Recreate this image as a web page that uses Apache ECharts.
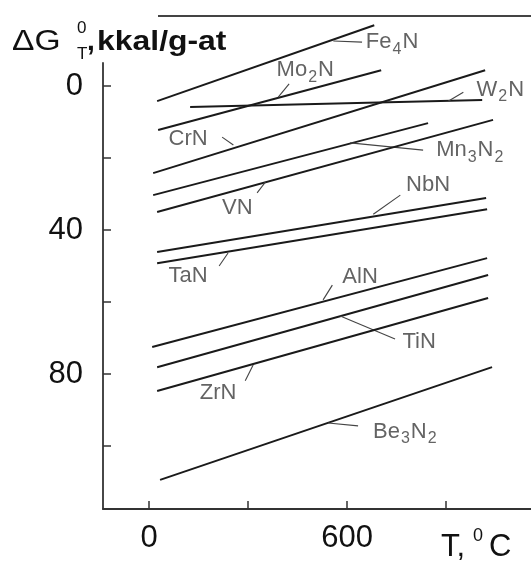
<!DOCTYPE html>
<html><head><meta charset="utf-8">
<script src="https://cdn.jsdelivr.net/npm/echarts@6/dist/echarts.min.js"></script>
<style>html,body{margin:0;padding:0;background:#fff}#c{width:531px;height:566px}</style>
</head><body><div id="c"></div>
<script>
// compounds (digits are subscripts)
const names  = ['Fe4N','Mo2N','W2N','CrN','Mn3N2','VN','NbN','TaN','AlN','TiN','ZrN','Be3N2'];
// line end points: T in °C, ΔG in kkal/g-at
const tStart = [24, 27, 124, 12, 12, 24, 24, 24, 9, 24, 24, 33];
const tEnd   = [682, 703, 1009, 1018, 845, 1042, 1021, 1024, 1024, 1027, 1027, 1039];
const gStart = [4.2, 12.2, 5.8, 24.2, 30.3, 35.0, 46.1, 49.2, 72.5, 78.1, 84.7, 109.4];
const gEnd   = [-16.9, -4.4, 3.9, -4.4, 10.3, 9.4, 31.1, 34.2, 47.8, 52.5, 58.9, 78.1];
// label anchor points
const labelT = [736, 473, 1064, 118, 973, 267, 845, 118, 639, 818, 209, 776];
const labelG = [-12.2, -4.4, 1.1, 14.7, 17.8, 33.9, 27.5, 52.8, 53.0, 71.1, 85.3, 96.1];
// leader lines
const leadT1 = [558, 424, 906, 221, 830, 327, 761, 239, 555, 579, 315, 542];
const leadG1 = [-12.5, -0.6, 4.2, 14.2, 17.8, 29.7, 30.3, 46.4, 55.3, 63.9, 77.5, 93.6];
const leadT2 = [645, 391, 952, 255, 609, 352, 679, 212, 527, 745, 291, 633];
const leadG2 = [-12.2, 3.1, 1.7, 16.4, 15.8, 26.7, 35.6, 50.0, 59.4, 70.3, 81.9, 94.4];
// axes
const xTicks = [0, 300, 600, 900];
const xLabels = [0, 600];
const yTicks = [0, 20, 40, 60, 80, 100];
const yLabels = [0, 40, 80];

function richName(n) {
  return n.replace(/(\d)/g, '{s|$1}').replace(/(^|\})([^{]+)(?=\{|$)/g, '$1{m|$2}');
}

const series = [];
names.forEach((n, i) => {
  series.push({
    type: 'line', name: n, clip: false, showSymbol: false, silent: true,
    data: [[tStart[i], gStart[i]], [tEnd[i], gEnd[i]]],
    lineStyle: { color: '#1a1a1a', width: 2 }
  });
  series.push({
    type: 'line', clip: false, showSymbol: false, silent: true,
    data: [[leadT1[i], leadG1[i]], [leadT2[i], leadG2[i]]],
    lineStyle: { color: '#444', width: 1.1 }
  });
});
series.push({
  type: 'scatter', clip: false, symbolSize: 0, silent: true,
  data: names.map((n, i) => ({ value: [labelT[i], labelG[i]], name: n })),
  label: {
    show: true, position: 'inside',
    formatter: p => richName(p.name),
    rich: {
      m: { fontFamily: 'Liberation Sans, Arial, sans-serif', fontSize: 22, color: '#3c3c3c', lineHeight: 30, verticalAlign: 'middle' },
      s: { fontFamily: 'Liberation Sans, Arial, sans-serif', fontSize: 16, color: '#3c3c3c', lineHeight: 14, verticalAlign: 'bottom', padding: [0, 1, 0, 1] }
    }
  }
});

const FF = 'Liberation Sans, Arial, sans-serif';
const chart = echarts.init(document.getElementById('c'), null, { renderer: 'canvas' });
chart.setOption({
  animation: false,
  backgroundColor: '#fff',
  grid: { left: 103, right: 0, top: 63, bottom: 57, containLabel: false },
  xAxis: {
    type: 'value', min: -140, max: 1157,
    axisLine: { show: true, onZero: false, lineStyle: { color: '#333', width: 1.8 } },
    axisTick: { show: true, inside: true, length: 8, customValues: xTicks, lineStyle: { color: '#333', width: 1.5 } },
    axisLabel: { customValues: xLabels, fontFamily: FF, fontSize: 31, color: '#111', margin: 14 },
    splitLine: { show: false }
  },
  yAxis: {
    type: 'value', inverse: true, min: -6.4, max: 117.5,
    axisLine: { show: true, onZero: false, lineStyle: { color: '#333', width: 1.8 } },
    axisTick: { show: true, inside: true, length: 8, customValues: yTicks, lineStyle: { color: '#333', width: 1.5 } },
    axisLabel: { customValues: yLabels, fontFamily: FF, fontSize: 31, color: '#111', margin: 20 },
    splitLine: { show: false }
  },
  graphic: [
    { type: 'line', shape: { x1: 158, y1: 16, x2: 531, y2: 16 }, style: { stroke: '#444', lineWidth: 2 } },
    { type: 'text', x: 12, y: 27, scaleX: 1.12, style: { text: 'ΔG', font: '30px ' + FF, fill: '#111', textVerticalAlign: 'top' } },
    { type: 'text', x: 77, y: 20, style: { text: '0', font: '17px ' + FF, fill: '#111', textVerticalAlign: 'top' } },
    { type: 'text', x: 77, y: 46, style: { text: 'T', font: '17px ' + FF, fill: '#111', textVerticalAlign: 'top' } },
    { type: 'text', x: 87, y: 28, style: { text: ',', font: 'bold 28px ' + FF, fill: '#111', textVerticalAlign: 'top' } },
    { type: 'text', x: 97, y: 28, scaleX: 1.14, style: { text: 'kkal/g-at', font: 'bold 28px ' + FF, fill: '#111', textVerticalAlign: 'top' } },
    { type: 'text', x: 441, y: 532, style: { text: 'T,', font: '31px ' + FF, fill: '#111', textVerticalAlign: 'top' } },
    { type: 'text', x: 473, y: 527, style: { text: '0', font: '18px ' + FF, fill: '#111', textVerticalAlign: 'top' } },
    { type: 'text', x: 489, y: 532, style: { text: 'C', font: '31px ' + FF, fill: '#111', textVerticalAlign: 'top' } }
  ],
  series: series
});
</script>
</body></html>
